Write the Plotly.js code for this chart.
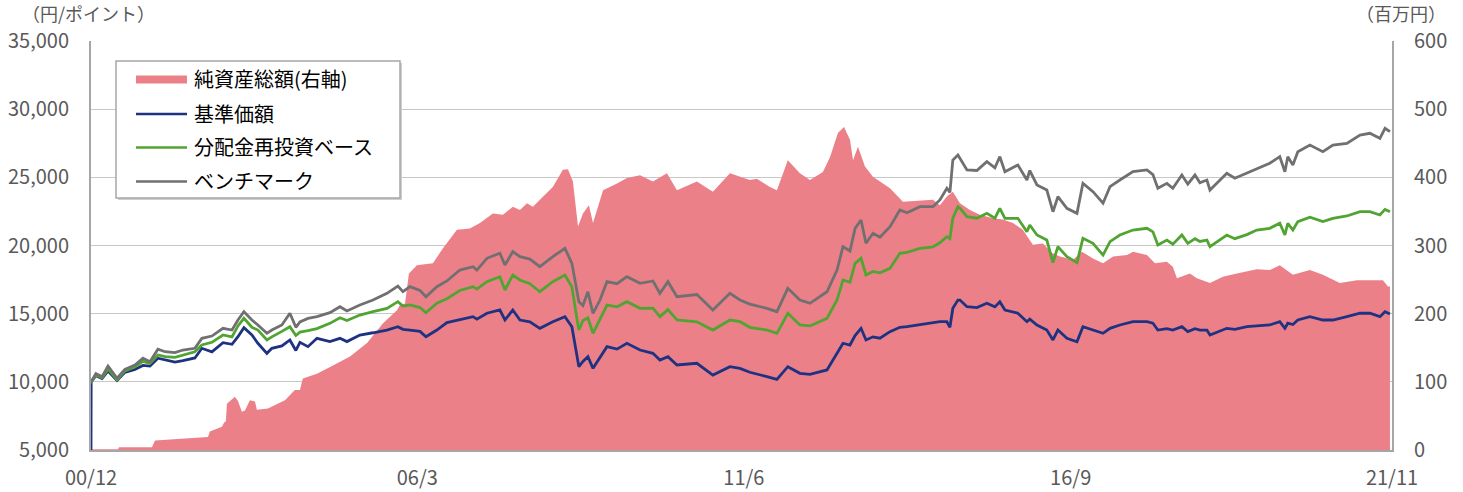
<!DOCTYPE html>
<html><head><meta charset="utf-8">
<script src="https://cdn.plot.ly/plotly-3.0.1.min.js"></script>
<style>html,body{margin:0;padding:0;background:#fff;}#chart{width:1463px;height:492px;}</style>
</head><body><div id="chart"></div>
<script>
// dates as decimal years
const lineYears = [2000.917,2000.920,2000.997,2001.094,2001.190,2001.335,2001.463,2001.624,2001.753,2001.865,
2001.994,2002.107,2002.267,2002.396,2002.589,2002.701,2002.862,2003.039,2003.184,2003.280,
2003.376,2003.505,2003.602,2003.746,2003.827,2003.987,2004.116,2004.212,2004.277,2004.405,
2004.550,2004.759,2004.920,2005.032,2005.241,2005.450,2005.676,2005.852,2005.933,2006.045,
2006.206,2006.302,2006.479,2006.640,2006.849,2007.058,2007.122,2007.283,2007.492,2007.573,
2007.701,2007.814,2007.974,2008.135,2008.344,2008.537,2008.650,2008.730,2008.762,2008.827,
2008.907,2008.987,2009.100,2009.212,2009.373,2009.534,2009.743,2009.952,2010.065,2010.193,
2010.338,2010.659,2010.917,2011.190,2011.351,2011.512,2011.785,2011.946,2012.122,2012.316,
2012.476,2012.750,2012.910,2013.007,2013.120,2013.200,2013.296,2013.377,2013.489,2013.602,
2013.762,2013.923,2014.036,2014.245,2014.454,2014.566,2014.679,2014.727,2014.775,2014.856,
2014.888,2015.000,2015.161,2015.322,2015.450,2015.531,2015.611,2015.820,2015.965,2016.013,
2016.126,2016.286,2016.383,2016.463,2016.608,2016.768,2016.865,2017.026,2017.187,2017.299,
2017.460,2017.669,2017.894,2017.990,2018.071,2018.215,2018.312,2018.457,2018.553,2018.666,
2018.746,2018.859,2018.907,2019.180,2019.309,2019.502,2019.662,2019.871,2020.032,2020.113,
2020.161,2020.241,2020.322,2020.515,2020.724,2020.884,2021.109,2021.318,2021.479,2021.640,
2021.721,2021.801];
const benchmark = [10000,10000,10600,10380,11160,10260,10920,11230,11730,11480,
12390,12210,12140,12335,12460,13190,13360,13925,13800,14535,
15145,14535,14170,13560,13800,14170,15030,14000,14400,14650,
14780,15070,15510,15200,15635,16000,16490,17030,16610,16980,
16700,16245,16980,17400,18200,18445,18200,19060,19430,18570,
19550,19180,19000,18445,19180,19795,18690,16800,15880,15600,
16610,15025,16000,17345,17200,17710,17225,17400,16490,17345,
16245,16400,15270,16490,16000,15700,15390,15145,16860,16000,
15760,16610,18200,19915,19600,21260,21870,20160,20895,20600,
21380,22600,22400,22850,22850,23340,24200,23900,26270,26640,
26400,25540,25500,26150,25700,26515,25415,25905,24805,25500,
24440,24070,22480,23580,22730,22360,24560,23950,23100,24315,
24805,25415,25540,25200,24195,24560,24200,25170,24500,25170,
24600,24800,24070,25295,24930,25300,25660,26030,26515,25415,
26515,25905,26880,27370,26880,27370,27495,28105,28230,27860,
28600,28350];
const reinvested = [10000,10000,10500,10300,10950,10150,10800,11100,11500,11350,
11970,11850,11800,11950,12200,12700,12900,13435,13300,14100,
14660,14000,13800,13070,13300,13700,14045,13400,13650,13750,
13900,14290,14700,14500,14900,15145,15390,15880,15560,15650,
15450,15070,15760,16100,16700,16980,16800,17345,17710,16735,
17835,17470,17200,16610,17345,17835,16980,14600,13800,14500,
14700,13560,14600,15635,15500,15880,15390,15400,14780,15300,
14535,14400,13800,14535,14410,14000,13800,13560,15030,14170,
14100,14660,16000,17470,17300,18690,19060,17835,18100,18000,
18325,19430,19500,19795,19900,20200,20650,20500,22000,22850,
22730,22115,22000,22360,22000,22730,21995,21995,21015,21500,
20770,20400,18740,19915,19180,18740,20525,20160,19300,20280,
20770,21137,21260,21000,20035,20400,20100,20770,20160,20500,
20300,20400,19915,20770,20500,20800,21137,21260,21630,20770,
21630,21137,21750,22070,21750,21995,22165,22480,22480,22240,
22650,22480];
const nav = [5000,10000,10450,10250,10800,10100,10700,10900,11200,11150,
11730,11600,11450,11550,11750,12460,12200,12870,12750,13310,
13970,13435,12830,12090,12460,12630,13070,12300,12900,12580,
13190,12950,13190,12950,13435,13600,13800,14045,13850,13800,
13700,13310,13800,14340,14535,14780,14600,15030,15270,14535,
15270,14535,14400,13925,14410,14780,14045,12090,11110,11500,
11845,10990,11800,12580,12400,12825,12335,12090,11600,11850,
11235,11360,10500,11110,10990,10700,10380,10185,11110,10625,
10550,10870,12090,12830,12700,13400,13925,13070,13300,13200,
13680,14000,14045,14170,14300,14410,14410,14000,15400,16000,
16000,15510,15450,15760,15500,15880,15270,15030,14410,14600,
14170,13800,13070,13800,13190,12940,14045,13800,13560,13925,
14170,14410,14410,14300,13800,13900,13800,14045,13680,13900,
13800,13800,13435,13925,13850,14045,14100,14170,14410,13925,
14300,14200,14535,14780,14535,14535,14780,15030,15030,14780,
15145,14975];
const assetYears = [2000.917,2001.351,2001.367,2001.897,2001.946,2002.798,2002.830,2003.023,2003.055,2003.087,
2003.103,2003.232,2003.280,2003.344,2003.393,2003.473,2003.554,2003.586,2003.763,2004.036,
2004.196,2004.277,2004.325,2004.550,2004.807,2005.081,2005.354,2005.611,2005.836,2005.885,
2005.965,2006.029,2006.158,2006.415,2006.576,2006.801,2007.010,2007.171,2007.380,2007.541,
2007.701,2007.814,2007.927,2008.023,2008.135,2008.344,2008.505,2008.586,2008.666,2008.746,
2008.827,2008.923,2008.987,2009.148,2009.373,2009.534,2009.743,2009.952,2010.177,2010.338,
2010.659,2010.917,2011.190,2011.351,2011.512,2011.624,2011.833,2011.946,2012.122,2012.316,
2012.476,2012.685,2012.798,2012.926,2013.023,2013.120,2013.168,2013.248,2013.361,2013.489,
2013.762,2013.971,2014.245,2014.454,2014.566,2014.679,2014.775,2014.888,2015.049,2015.209,
2015.418,2015.579,2015.740,2015.901,2016.062,2016.222,2016.367,2016.496,2016.705,2016.849,
2017.026,2017.187,2017.348,2017.573,2017.669,2017.894,2018.023,2018.215,2018.312,2018.377,
2018.586,2018.698,2018.907,2019.116,2019.341,2019.662,2019.871,2020.032,2020.241,2020.515,
2020.724,2020.997,2021.270,2021.479,2021.688,2021.769,2021.801];
const netAssets = [1,1,4,4,14,19,27,34,40,42,
68,78,72,56,58,73,71,59,61,73,
88,88,105,112,124,137,157,186,205,213,
215,259,271,274,296,323,325,333,347,345,
357,352,362,357,367,386,411,412,394,328,
347,359,333,381,391,399,403,394,406,381,
394,379,406,401,396,398,386,381,425,406,
396,408,430,465,474,455,425,445,416,401,
384,364,366,367,359,372,379,362,352,345,
340,338,333,323,301,303,289,284,279,291,
281,274,284,286,291,286,274,276,269,252,
259,252,245,254,259,265,264,271,257,264,
257,245,249,249,249,240,240];
const xTickVals = ['2000-12-01','2006-03-01','2011-06-01','2016-09-01','2021-11-01'];
const xTickText = ['00/12','06/3','11/6','16/9','21/11'];
const seriesNames = ['純資産総額(右軸)','基準価額','分配金再投資ベース','ベンチマーク'];
const seriesColors = ['rgb(235,128,137)','rgb(31,50,130)','rgb(80,165,50)','rgb(112,112,112)'];
const leftTitle = '（円/ポイント）';
const rightTitle = '（百万円）';

function yearToDate(d){
  const y = Math.floor(d);
  const s = Date.UTC(y,0,1), e = Date.UTC(y+1,0,1);
  return new Date(s + (d - y)*(e - s)).toISOString().slice(0,10);
}
const lineDates = lineYears.map(yearToDate);
const assetDates = assetYears.map(yearToDate);

const FONT = '"Noto Sans CJK JP", "Noto Sans", sans-serif';
const PX = x => (x - 91) / 1301;
const PY = y => (450 - y) / 409;

const traces = [
  {x: assetDates, y: netAssets, type:'scatter', mode:'lines', fill:'tozeroy',
   line:{width:0, color:seriesColors[0]}, fillcolor:seriesColors[0], yaxis:'y', name:seriesNames[0], showlegend:false, hoverinfo:'skip'},
  {x: lineDates, y: nav, type:'scatter', mode:'lines', line:{width:2.8, color:seriesColors[1]}, yaxis:'y2', name:seriesNames[1], showlegend:false},
  {x: lineDates, y: reinvested, type:'scatter', mode:'lines', line:{width:2.8, color:seriesColors[2]}, yaxis:'y2', name:seriesNames[2], showlegend:false},
  {x: lineDates, y: benchmark, type:'scatter', mode:'lines', line:{width:2.8, color:seriesColors[3]}, yaxis:'y2', name:seriesNames[3], showlegend:false}
];

// legend drawn as layout decoration
const legRows = [79, 114, 147.5, 181.5];
const shapes = [
  {type:'rect', xref:'paper', yref:'paper', x0:PX(118), x1:PX(402), y0:PY(200), y1:PY(63), fillcolor:'#cfcfcf', line:{width:0}, layer:'above'},
  {type:'rect', xref:'paper', yref:'paper', x0:PX(116), x1:PX(400), y0:PY(198), y1:PY(61), fillcolor:'#ffffff', line:{color:'#a6a6a6', width:1.5}, layer:'above'},
  {type:'rect', xref:'paper', yref:'paper', x0:PX(136), x1:PX(187), y0:PY(83.5), y1:PY(75.5), fillcolor:seriesColors[0], line:{width:0}, layer:'above'}
];
for (let i = 1; i < 4; i++) {
  shapes.push({type:'line', xref:'paper', yref:'paper', x0:PX(136), x1:PX(187), y0:PY(legRows[i]), y1:PY(legRows[i]),
    line:{color:seriesColors[i], width:2.5}, layer:'above'});
}
const annotations = seriesNames.map((t, i) => ({
  text:t, xref:'paper', yref:'paper', x:PX(192), y:PY(legRows[i] - 1), xanchor:'left', yanchor:'middle',
  showarrow:false, font:{family:FONT, size:20, color:'#000000'}
}));
annotations.push({text:leftTitle, xref:'paper', yref:'paper', x:PX(88), y:PY(13), xanchor:'center', yanchor:'middle',
  showarrow:false, font:{family:FONT, size:18, color:'#595959'}});
annotations.push({text:rightTitle, xref:'paper', yref:'paper', x:PX(1401), y:PY(13), xanchor:'center', yanchor:'middle',
  showarrow:false, font:{family:FONT, size:18, color:'#595959'}});

const tickFont = {family:FONT, size:20, color:'#595959'};
const layout = {
  width:1463, height:492,
  margin:{l:91, r:71, t:41, b:42, pad:0},
  paper_bgcolor:'#ffffff', plot_bgcolor:'#ffffff',
  showlegend:false,
  xaxis:{type:'date', range:['2000-12-01','2021-11-01'], tickvals:xTickVals, ticktext:xTickText,
    showgrid:false, zeroline:false, showline:true, linecolor:'#a6a6a6', linewidth:2, ticks:'',
    tickfont:tickFont, ticklabelstandoff:9, fixedrange:true},
  yaxis:{range:[0,600], dtick:100, side:'right', showgrid:true, gridcolor:'#c8c8c8', gridwidth:1,
    zeroline:false, showline:true, linecolor:'#a6a6a6', linewidth:2, ticks:'', tickfont:tickFont,
    ticklabelstandoff:16, fixedrange:true},
  yaxis2:{range:[5000,35000], dtick:5000, tickformat:',d', overlaying:'y', side:'left', showgrid:false,
    zeroline:false, showline:true, linecolor:'#a6a6a6', linewidth:2, ticks:'', tickfont:tickFont,
    ticklabelstandoff:16, fixedrange:true},
  shapes:shapes,
  annotations:annotations,
  font:{family:FONT}
};
Plotly.newPlot('chart', traces, layout, {staticPlot:true, displayModeBar:false});
</script></body></html>
